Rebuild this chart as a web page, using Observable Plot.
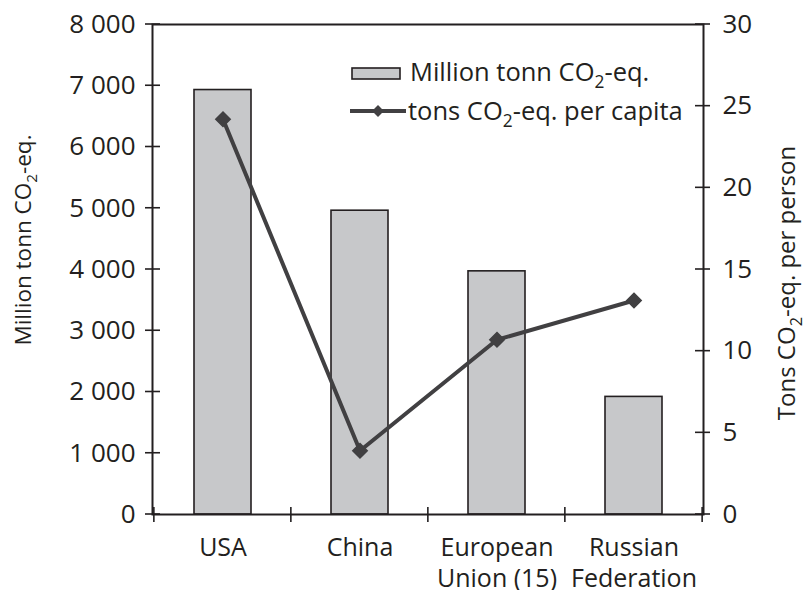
<!DOCTYPE html>
<html><head><meta charset="utf-8">
<script src="https://cdn.jsdelivr.net/npm/d3@7"></script>
<script src="https://cdn.jsdelivr.net/npm/@observablehq/plot@0.6"></script>
<style>
body{margin:0;background:#fff;}
#chart svg{display:block;}
</style></head><body><div id="chart"></div>
<script>
// ---- data ----
const countries = ["USA", "China", "European Union (15)", "Russian Federation"];
const xLabels = ["USA", "China", "European\nUnion (15)", "Russian\nFederation"];
const emissions = [6930, 4960, 3970, 1920];       // Million tonn CO2-eq.
const perCapita = [24.2, 3.9, 10.7, 13.1];        // tons CO2-eq. per capita
const leftTicks = [0, 1000, 2000, 3000, 4000, 5000, 6000, 7000, 8000];
const rightTicks = [0, 5, 10, 15, 20, 25, 30];
const leftMax = 8000, rightMax = 30;

// ---- build ----
const k = leftMax / rightMax;
const rows = countries.map((c, i) => ({country: c, emissions: emissions[i], perCapita: perCapita[i]}));
const fmt = d3.formatLocale({thousands: " ", grouping: [3], decimal: ".", currency: ["", ""]}).format(",");
const ink = "#231f20";
const lineCol = "#414042";
const font = "'Open Sans', sans-serif";

const plot = Plot.plot({
  width: 806, height: 590,
  marginLeft: 152, marginRight: 103, marginTop: 24, marginBottom: 76,
  style: {fontFamily: font, fontSize: "25px", color: ink, background: "#fff"},
  x: {type: "band", domain: countries, paddingInner: 0.586, paddingOuter: 0.293, label: null},
  y: {domain: [0, leftMax], label: null},
  marks: [
    Plot.barY(rows, {x: "country", y: "emissions", fill: "#c7c8ca", stroke: ink, strokeWidth: 1.6}),
    Plot.line(rows, {x: "country", y: d => d.perCapita * k, stroke: lineCol, strokeWidth: 4}),
    Plot.dot(rows, {x: "country", y: d => d.perCapita * k, symbol: "diamond2", r: 6.5, fill: lineCol, stroke: lineCol}),
    Plot.frame({stroke: ink, strokeWidth: 2}),
    Plot.axisY(leftTicks, {anchor: "left", tickSize: 0, tickPadding: 17, tickFormat: fmt, label: null, fontSize: 26, fill: ink}),
    Plot.axisY(rightTicks.map(v => v * k), {anchor: "right", tickSize: 0, tickPadding: 19, tickFormat: d => String(Math.round(d / k)), label: null, fontSize: 26, fill: ink}),
    Plot.axisX({tickSize: 0, tickPadding: 20, tickFormat: d => xLabels[countries.indexOf(d)], lineHeight: 1.22, label: null, fontSize: 25, fill: ink})
  ]
});
document.getElementById("chart").appendChild(plot);

// ---- crossing tick marks, from the plot's own scales ----
const svg = d3.select(plot);
const xs = plot.scale("x"), ys = plot.scale("y");
const x0 = 152, x1 = 806 - 103, yb = ys.apply(0);
const g = svg.append("g").attr("stroke", ink).attr("stroke-width", 1.6);
leftTicks.forEach(v => { const y = ys.apply(v); g.append("line").attr("x1", x0 - 7).attr("x2", x0 + 8).attr("y1", y).attr("y2", y); });
rightTicks.forEach(v => { const y = ys.apply(v * k); g.append("line").attr("x1", x1 - 8).attr("x2", x1 + 7).attr("y1", y).attr("y2", y); });
const gap = xs.step * xs.paddingInner / 2;
const bounds = countries.map(c => xs.apply(c) - gap);
bounds.push(xs.apply(countries[countries.length - 1]) + xs.bandwidth + gap);
bounds.forEach(x => g.append("line").attr("x1", x).attr("x2", x).attr("y1", yb - 7).attr("y2", yb + 8));

// ---- text helper with subscript ----
function co2Text(sel, before, after, size) {
  const t = sel.append("text").attr("font-family", font).attr("font-size", size).attr("fill", ink);
  t.append("tspan").text(before + "CO");
  t.append("tspan").attr("font-size", size * 0.68).attr("dy", size * 0.28).text("2");
  t.append("tspan").attr("dy", -size * 0.28).text(after);
  return t;
}

// axis titles
co2Text(svg, "Million tonn ", "-eq.", 22.5).attr("text-anchor", "middle").attr("transform", "translate(31,240) rotate(-90)");
co2Text(svg, "Tons ", "-eq. per person", 24).attr("text-anchor", "middle").attr("transform", "translate(795,283) rotate(-90)");

// legend
const lg = svg.append("g").attr("text-anchor", "start");
lg.append("rect").attr("x", 352).attr("y", 68).attr("width", 48).attr("height", 11).attr("fill", "#c7c8ca").attr("stroke", ink).attr("stroke-width", 1.6);
co2Text(lg, "Million tonn ", "-eq.", 25.5).attr("text-anchor", "start").attr("x", 410).attr("y", 81);
lg.append("line").attr("x1", 350).attr("x2", 406).attr("y1", 111).attr("y2", 111).attr("stroke", lineCol).attr("stroke-width", 4);
lg.append("path").attr("d", d3.symbol(d3.symbolDiamond2, 90)()).attr("transform", "translate(378,111)").attr("fill", lineCol);
co2Text(lg, "tons ", "-eq. per capita", 25.5).attr("text-anchor", "start").attr("x", 408).attr("y", 120);
</script>
</body></html>
